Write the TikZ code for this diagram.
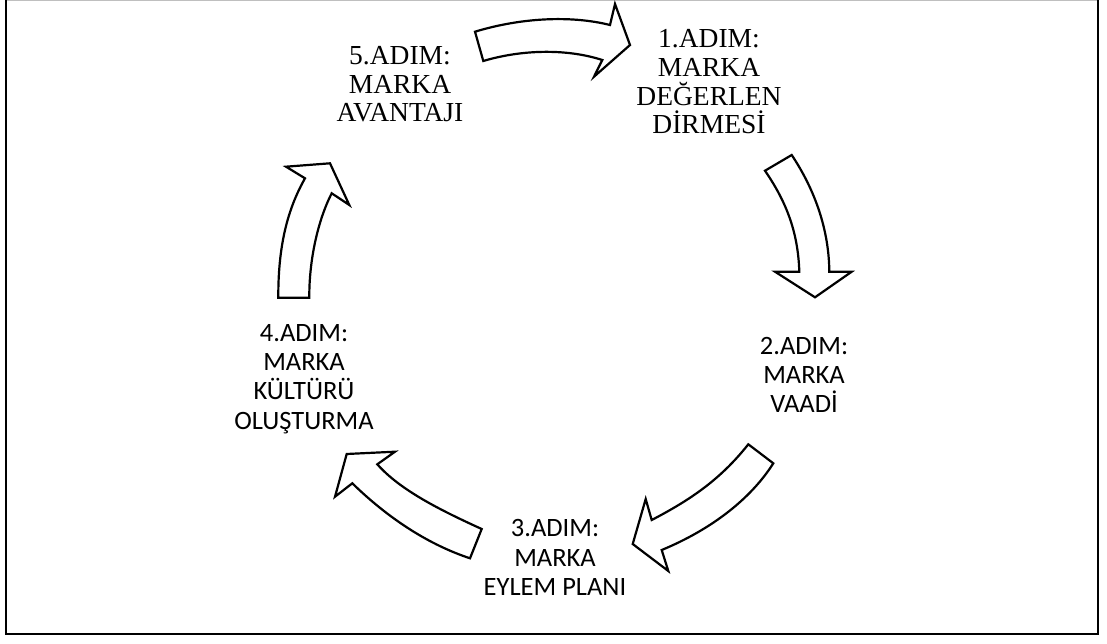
\documentclass[tikz,border=0pt]{standalone}
\usepackage{fontspec}
\setmainfont{Liberation Serif}
\newfontfamily\calibrifont{Carlito}
\usetikzlibrary{positioning}

\begin{document}
\begin{tikzpicture}[x=1pt,y=-1pt,
    blockarrow/.style={draw,fill=white,line width=2.2pt,line join=miter},
    timesadim/.style={align=center,inner sep=0pt,anchor=north,font=\fontsize{27.5}{28.7}\selectfont},
    calibriadim/.style={align=center,inner sep=0pt,anchor=north,font=\calibrifont\fontsize{26.5}{29.3}\selectfont}]
    \useasboundingbox (0,0) rectangle (1107,644);
    % Frame
    \draw[black!25,line width=1pt] (6,0.5) -- (1098,0.5);
    \draw[line width=2pt] (6,0) -- (6,634) -- (1098,634) -- (1098,0);
    % Steps
    \node[timesadim] (adim1) at (709,29.5) {1.ADIM:\\MARKA\\DEĞERLEN\\DİRMESİ};
    \node[calibriadim] (adim2) at (804,337) {2.ADIM:\\MARKA\\VAADİ};
    \node[calibriadim] (adim3) at (555,519.5) {3.ADIM:\\MARKA\\EYLEM PLANI};
    \node[calibriadim] (adim4) at (304,324) {4.ADIM:\\MARKA\\KÜLTÜRÜ\\OLUŞTURMA};
    \node[timesadim] (adim5) at (400,46) {5.ADIM:\\MARKA\\AVANTAJI};
    % Arrow 5 -> 1
    \draw[blockarrow] (475,31.7) .. controls (520,18) and (570,15) .. (610,25)
        -- (615,4) -- (630,45) -- (594,76.7) -- (602.3,60)
        .. controls (565,48) and (520,50) .. (483.3,61) -- cycle;
    % Arrow 1 -> 2
    \draw[blockarrow] (791.7,155) .. controls (815,190) and (829,230) .. (829.3,271.7)
        -- (851.7,271.7) -- (815,297.3) -- (775,271.7) -- (799.3,271.7)
        .. controls (798,230) and (785,200) .. (765,170.7) -- cycle;
    % Arrow 2 -> 3
    \draw[blockarrow] (748.3,444.3) .. controls (720,480) and (690,500) .. (651.7,520)
        -- (645.7,499) -- (632.7,544) -- (668.3,571) -- (661.7,550)
        .. controls (710,530) and (750,500) .. (773.3,463.3) -- cycle;
    % Arrow 3 -> 4
    \draw[blockarrow] (481.7,529) .. controls (440,510) and (400,490) .. (377.3,464.3)
        -- (395,451.7) -- (346.7,454) -- (335,496.7) -- (352.3,483.3)
        .. controls (390,520) and (430,545) .. (470,558.3) -- cycle;
    % Arrow 4 -> 5
    \draw[blockarrow] (278.3,297.7) .. controls (278,240) and (290,205) .. (305,178.3)
        -- (286,166.7) -- (330,163.3) -- (349.3,205) -- (331.7,193.3)
        .. controls (318,220) and (309,260) .. (309.3,297.7) -- cycle;
\end{tikzpicture}
\end{document}
